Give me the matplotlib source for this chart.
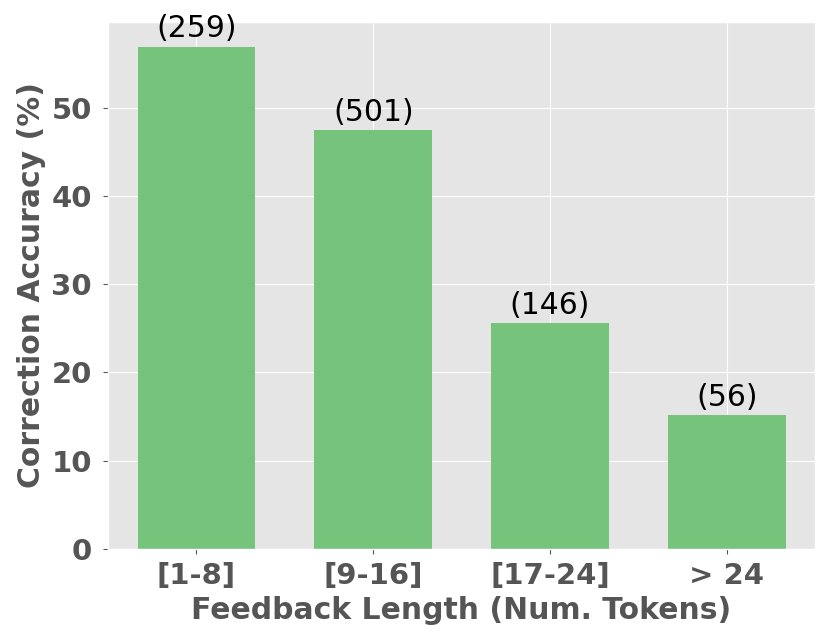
import matplotlib
matplotlib.use("Agg")
import matplotlib.pyplot as plt

plt.style.use("ggplot")

categories = ["[1-8]", "[9-16]", "[17-24]", "> 24"]
accuracy = [56.9, 47.4, 25.6, 15.2]
counts = ["(259)", "(501)", "(146)", "(56)"]

fig = plt.figure(figsize=(8.31, 6.43), dpi=100)
ax = fig.add_axes([0.130, 0.146, 0.851, 0.820])
x = list(range(len(categories)))
bars = ax.bar(x, accuracy, width=0.665, color="#76c37c")
for b, c in zip(bars, counts):
    ax.text(b.get_x() + b.get_width() / 2, b.get_height() + 0.35, c,
            ha="center", va="bottom", fontsize=21.5, color="black")
ax.set_xticks(x)
ax.set_xticklabels(categories, fontsize=21, fontweight="bold", color="#555555")
ax.set_xlim(-0.5, 3.5)
ax.set_ylim(0, 59.7)
ax.set_yticks([0, 10, 20, 30, 40, 50])
ax.set_yticklabels(["0", "10", "20", "30", "40", "50"], fontweight="bold",
                   fontsize=21, color="#555555")
ax.tick_params(axis="x", pad=6)
ax.tick_params(axis="y", pad=8)
ax.set_xlabel("Feedback Length (Num. Tokens)", fontsize=21.5, fontweight="bold",
              color="#555555", labelpad=4)
ax.set_ylabel("Correction Accuracy (%)", fontsize=21.5, fontweight="bold",
              color="#555555", labelpad=4)
fig.savefig("out.png", dpi=100)
